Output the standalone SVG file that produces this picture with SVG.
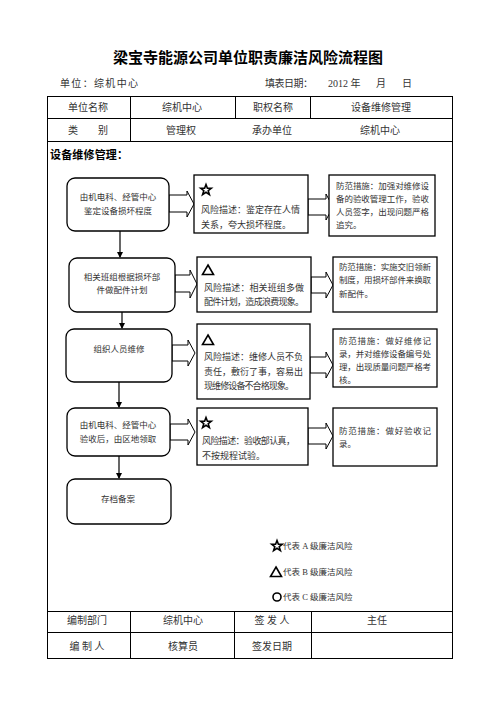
<svg xmlns="http://www.w3.org/2000/svg" width="496" height="702" viewBox="0 0 496 702">
<defs>
<style>
.t{font-family:"Liberation Serif","Noto Sans CJK SC",serif;fill:#333;}
.c{text-anchor:middle;}
.ln{stroke:#000;stroke-width:1;fill:none;}
.box{fill:#fff;stroke:#000;stroke-width:1.3;}
.ha{fill:#fff;stroke:#000;stroke-width:1;}
.va{stroke:#000;stroke-width:1.2;fill:none;marker-end:url(#ah);}
</style>
<marker id="ah" markerWidth="6" markerHeight="6" refX="5" refY="3" orient="auto" markerUnits="userSpaceOnUse"><path d="M0,0 L6,3 L0,6 Z" fill="#000"/></marker>
<path id="star" d="M0,-5.5 L1.4,-1.8 L5.3,-1.8 L2.2,0.7 L3.4,4.6 L0,2.3 L-3.4,4.6 L-2.2,0.7 L-5.3,-1.8 L-1.4,-1.8 Z" fill="#fff" stroke="#000" stroke-width="1.6"/>
<path id="tri" d="M0,-5 L5.5,4.5 L-5.5,4.5 Z" fill="#fff" stroke="#000" stroke-width="1.6"/>
</defs>
<rect width="496" height="702" fill="#fff"/>

<g id="header">
<text class="t c" x="248" y="63" font-size="15" font-weight="bold" textLength="270" style="fill:#000">梁宝寺能源公司单位职责廉洁风险流程图</text>
<text class="t" x="60" y="87" font-size="10" textLength="78">单位：综机中心</text>
<text class="t" x="265" y="87" font-size="10" textLength="48">填表日期：</text>
<text class="t" x="328" y="87" font-size="10">2012 年</text>
<text class="t" x="376" y="87" font-size="10">月</text>
<text class="t" x="402" y="87" font-size="10">日</text>
</g>

<g id="table">
<rect class="ln" x="47.5" y="96.5" width="405" height="562"/>
<line class="ln" x1="47.5" y1="118.5" x2="452.5" y2="118.5"/>
<line class="ln" x1="47.5" y1="141.5" x2="452.5" y2="141.5"/>
<line class="ln" x1="130.5" y1="96.5" x2="130.5" y2="141.5"/>
<line class="ln" x1="235.5" y1="96.5" x2="235.5" y2="118.5"/>
<line class="ln" x1="310.5" y1="96.5" x2="310.5" y2="118.5"/>
<line class="ln" x1="47.5" y1="611.5" x2="452.5" y2="611.5"/>
<line class="ln" x1="47.5" y1="632.5" x2="452.5" y2="632.5"/>
<line class="ln" x1="130.5" y1="611.5" x2="130.5" y2="658.5"/>
<line class="ln" x1="234.5" y1="611.5" x2="234.5" y2="658.5"/>
<line class="ln" x1="311.5" y1="611.5" x2="311.5" y2="658.5"/>
<text class="t c" x="88" y="111" font-size="10">单位名称</text>
<text class="t c" x="182" y="111" font-size="10">综机中心</text>
<text class="t c" x="273" y="111" font-size="10">职权名称</text>
<text class="t c" x="381" y="111" font-size="10">设备维修管理</text>
<text class="t c" x="88" y="134" font-size="10">类　　别</text>
<text class="t c" x="181" y="134" font-size="10">管理权</text>
<text class="t c" x="272" y="134" font-size="10">承办单位</text>
<text class="t c" x="380" y="134" font-size="10">综机中心</text>
<text class="t" x="50" y="159" font-size="11" font-weight="bold" textLength="78" style="fill:#000">设备维修管理：</text>
<text class="t c" x="87" y="624" font-size="10">编制部门</text>
<text class="t c" x="183" y="624" font-size="10">综机中心</text>
<text class="t c" x="272" y="624" font-size="10">签 发 人</text>
<text class="t c" x="377" y="624" font-size="10">主任</text>
<text class="t c" x="87" y="650" font-size="10">编 制 人</text>
<text class="t c" x="183" y="650" font-size="10">核算员</text>
<text class="t c" x="272" y="650" font-size="10">签发日期</text>
</g>

<g id="connectors">
<line class="va" x1="120" y1="231" x2="120" y2="257"/>
<line class="va" x1="122" y1="312" x2="122" y2="328"/>
<line class="va" x1="119" y1="382" x2="119" y2="407"/>
<line class="va" x1="119" y1="456" x2="119" y2="478"/>
<polygon class="ha" points="169,195 187,195 187,191 194,204 187,217 187,212 169,212"/>
<polygon class="ha" points="175,275 190,275 190,270 197,284 190,298 190,292 175,292"/>
<polygon class="ha" points="172,345 188,345 188,340 195,353 188,366 188,361 172,361"/>
<polygon class="ha" points="170,424 188,424 188,419 195,432 188,445 188,440 170,440"/>
<polygon class="ha" points="308,199 326,199 326,194 333,207 326,220 326,215 308,215"/>
<polygon class="ha" points="311,277 326,277 326,272 333,285 326,298 326,293 311,293"/>
<polygon class="ha" points="310,357 326,357 326,352 333,365 326,378 326,373 310,373"/>
<polygon class="ha" points="308,428 326,428 326,423 333,436 326,449 326,444 308,444"/>
</g>

<g id="step1">
<rect class="box" x="67" y="178" width="102" height="53" rx="8"/>
<text class="t c" x="118" y="200" font-size="8.5">由机电科、经管中心</text>
<text class="t c" x="118" y="214" font-size="8.5">鉴定设备损坏程度</text>
</g>
<g id="step2">
<rect class="box" x="69" y="258" width="106" height="54" rx="8"/>
<text class="t c" x="122" y="280" font-size="8.5">相关班组根据损坏部</text>
<text class="t c" x="122" y="293" font-size="8.5">件做配件计划</text>
</g>
<g id="step3">
<rect class="box" x="66" y="329" width="106" height="53" rx="8"/>
<text class="t c" x="119" y="352" font-size="8.5">组织人员维修</text>
</g>
<g id="step4">
<rect class="box" x="67" y="408" width="103" height="48" rx="8"/>
<text class="t c" x="118" y="428" font-size="8.5">由机电科、经管中心</text>
<text class="t c" x="118" y="442" font-size="8.5">验收后，由区地领取</text>
</g>
<g id="step5">
<rect class="box" x="67" y="479" width="104" height="45" rx="8"/>
<text class="t c" x="118" y="502" font-size="8.5">存档备案</text>
</g>

<g id="risk1">
<rect class="box" x="194" y="175" width="114" height="58"/>
<use href="#star" x="206" y="190"/>
<text class="t" x="201" y="213" font-size="9" textLength="99">风险描述：鉴定存在人情</text>
<text class="t" x="201" y="228" font-size="9" textLength="90">关系，夸大损坏程度。</text>
</g>
<g id="risk2">
<rect class="box" x="197" y="257" width="114" height="55"/>
<use href="#tri" x="208" y="270"/>
<text class="t" x="204" y="291" font-size="9" textLength="100">风险描述：相关班组多做</text>
<text class="t" x="204" y="305" font-size="9" textLength="100">配件计划，造成浪费现象。</text>
</g>
<g id="risk3">
<rect class="box" x="197" y="324" width="113" height="75"/>
<use href="#tri" x="208" y="340"/>
<text class="t" x="204" y="360" font-size="9" textLength="99">风险描述：维修人员不负</text>
<text class="t" x="204" y="375" font-size="9" textLength="99">责任，敷衍了事，容易出</text>
<text class="t" x="204" y="389" font-size="9" textLength="90">现维修设备不合格现象。</text>
</g>
<g id="risk4">
<rect class="box" x="197" y="408" width="111" height="57"/>
<use href="#star" x="206" y="423"/>
<text class="t" x="202" y="444" font-size="9" textLength="93">风险描述：验收部认真，</text>
<text class="t" x="202" y="459" font-size="9">不按规程试验。</text>
</g>

<g id="measure1">
<rect class="box" x="329" y="175" width="106" height="61"/>
<text class="t" x="336" y="189" font-size="8.5" textLength="93">防范措施：加强对维修设</text>
<text class="t" x="336" y="202" font-size="8.5" textLength="93">备的验收管理工作，验收</text>
<text class="t" x="336" y="215" font-size="8.5" textLength="93">人员签字，出现问题严格</text>
<text class="t" x="336" y="228" font-size="8.5">追究。</text>
</g>
<g id="measure2">
<rect class="box" x="333" y="257" width="104" height="55"/>
<text class="t" x="339" y="270" font-size="8.5" textLength="92">防范措施：实施交旧领新</text>
<text class="t" x="339" y="283" font-size="8.5" textLength="92">制度，用损坏部件来换取</text>
<text class="t" x="339" y="297" font-size="8.5">新配件。</text>
</g>
<g id="measure3">
<rect class="box" x="333" y="329" width="104" height="58"/>
<text class="t" x="339" y="344" font-size="8.5" textLength="92">防范措施：做好维修记</text>
<text class="t" x="339" y="357" font-size="8.5" textLength="92">录，并对维修设备编号处</text>
<text class="t" x="339" y="370" font-size="8.5" textLength="92">理，出现质量问题严格考</text>
<text class="t" x="339" y="383" font-size="8.5">核。</text>
</g>
<g id="measure4">
<rect class="box" x="333" y="408" width="104" height="58"/>
<text class="t" x="339" y="434" font-size="8.5" textLength="92">防范措施：做好验收记</text>
<text class="t" x="339" y="447" font-size="8.5">录。</text>
</g>

<g id="legend">
<use href="#star" x="277" y="546"/>
<text class="t" x="283" y="549" font-size="8.5">代表 A 级廉洁风险</text>
<use href="#tri" x="276" y="572"/>
<text class="t" x="283" y="575" font-size="8.5">代表 B 级廉洁风险</text>
<circle cx="277" cy="597" r="4" fill="#fff" stroke="#000" stroke-width="1.6"/>
<text class="t" x="283" y="600" font-size="8.5">代表 C 级廉洁风险</text>
</g>
</svg>
